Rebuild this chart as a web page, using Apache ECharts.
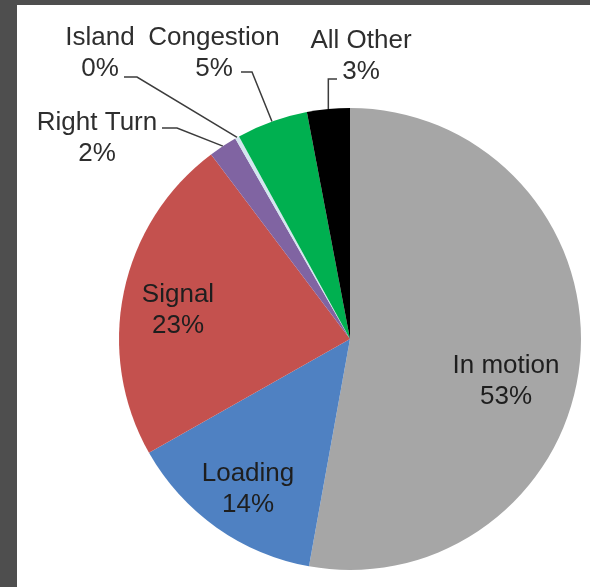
<!DOCTYPE html>
<html>
<head>
<meta charset="utf-8">
<script src="https://cdn.jsdelivr.net/npm/echarts@6/dist/echarts.min.js"></script>
<style>
  html, body { margin: 0; padding: 0; background: #4e4e4e; }
  #main { width: 590px; height: 587px; }
</style>
</head>
<body>
<div id="main"></div>
<script>
// Share of time by activity (percent)
const categories = ['In motion', 'Loading', 'Signal', 'Right Turn', 'Island', 'Congestion', 'All Other'];
const shares = [53, 14, 23, 2, 0.3, 5, 3];
const sliceColors = ['#a6a6a6', '#4f81c2', '#c4514e', '#8064a2', '#d3e6ef', '#00b050', '#000000'];
const insideLabels = ['In motion', 'Loading', 'Signal'];

// Where each label block sits, and how its leader line bends
const labelSpots = {
  'In motion':  { x: 506, y: 381 },
  'Loading':    { x: 248, y: 489 },
  'Signal':     { x: 178, y: 310 },
  'Right Turn': { x: 97,  y: 138, elbow: [177, 128], end: [162, 128] },
  'Island':     { x: 100, y: 53,  elbow: [137, 77],  end: [124, 77] },
  'Congestion': { x: 214, y: 53,  elbow: [252, 72],  end: [241, 72] },
  'All Other':  { x: 361, y: 56,  elbow: ['up', 79], end: [337, 79] }
};

const chart = echarts.init(document.getElementById('main'), null, { renderer: 'canvas' });

const pieData = categories.map((name, i) => {
  const inside = insideLabels.includes(name);
  return {
    name: name,
    value: shares[i],
    itemStyle: { color: sliceColors[i] },
    label: {
      position: inside ? 'inside' : 'outside',
      color: inside ? '#1e1e1e' : '#2e2e2e'
    },
    labelLine: { show: !inside }
  };
});

chart.setOption({
  animation: false,
  backgroundColor: '#4e4e4e',
  graphic: [{
    type: 'rect',
    z: -1,
    shape: { x: 17, y: 5, width: 573, height: 582 },
    style: { fill: '#ffffff' }
  }],
  series: [{
    type: 'pie',
    center: [350, 339],
    radius: 231,
    startAngle: 90,
    clockwise: true,
    percentPrecision: 0,
    avoidLabelOverlap: false,
    silent: true,
    itemStyle: { borderWidth: 0 },
    label: {
      formatter: '{b}\n{d}%',
      fontFamily: 'Liberation Sans, Arial, sans-serif',
      fontSize: 26,
      lineHeight: 31,
      align: 'center'
    },
    labelLine: {
      show: true,
      lineStyle: { color: '#3c3c3c', width: 1.5 }
    },
    labelLayout: function (params) {
      const name = categories[params.dataIndex];
      const spot = labelSpots[name];
      const out = { x: spot.x, y: spot.y, align: 'center', verticalAlign: 'middle' };
      if (spot.elbow && params.labelLinePoints) {
        const p0 = params.labelLinePoints[0];
        const ex = spot.elbow[0] === 'up' ? p0[0] : spot.elbow[0];
        out.labelLinePoints = [p0, [ex, spot.elbow[1]], spot.end];
      }
      return out;
    },
    data: pieData
  }]
});
</script>
</body>
</html>
